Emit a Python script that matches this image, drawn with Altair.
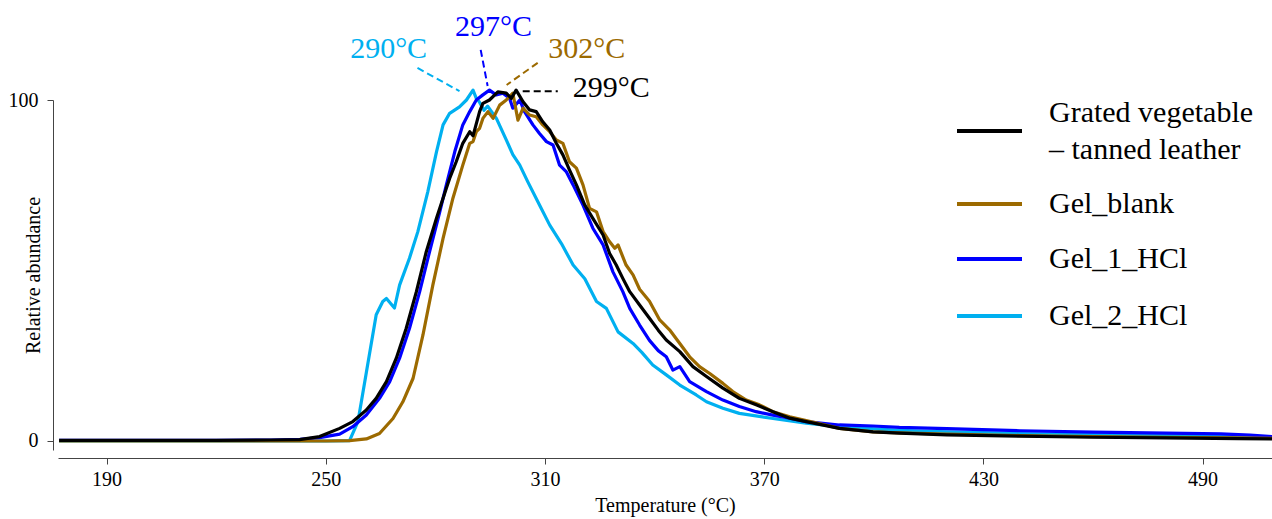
import altair as alt
import pandas as pd

# ---------------- data ----------------
series_names = ["Grated vegetable – tanned leather", "Gel_blank", "Gel_1_HCl", "Gel_2_HCl"]
series_colors = ["#000000", "#9C6A00", "#0000FF", "#00B0F0"]

black_t = [177, 200, 220, 235, 242.8, 248.3, 253.8, 257.4, 261.1, 263.8, 266.6, 269.3, 272, 274.8,
           277.5, 280.3, 283, 283.9, 285.7, 287.5, 289.4, 290.3, 292.1, 293, 294.8, 297.1, 299.4,
           300.8, 302.1, 304, 305.8, 307.6, 309.4, 311.3, 313.1, 314.9, 316.7, 318.6, 320.9, 323.1,
           325.9, 327.7, 329.5, 331.3, 333.2, 335.9, 338.6, 341, 343.2, 346.9, 350.5, 354.2, 358.7,
           363.2, 367.8, 372.4, 377, 381.5, 390.6, 399.8, 407, 420, 440, 460, 480, 500, 509]
black_v = [0.2, 0.2, 0.2, 0.3, 0.4, 1.3, 3.7, 5.7, 9.1, 12.5, 17.4, 24.3, 33, 43.8,
           55.5, 65.3, 74.1, 77, 81.9, 87.3, 90.7, 89.5, 96.6, 99, 100, 102.4, 102,
           100.5, 102.9, 99.5, 97.1, 96.6, 93.6, 91.2, 87.3, 83.9, 79.5, 75.1, 69.2, 65.3,
           60.4, 55, 51.6, 47.7, 43.8, 39.9, 36, 32.5, 29.6, 26.2, 21.8, 18.9, 15.5,
           12.5, 10.6, 8.6, 6.7, 5.7, 3.7, 2.7, 2.3, 1.8, 1.4, 1.1, 0.9, 0.7, 0.6]

brown_t = [177, 200, 220, 240, 250, 256.5, 261.1, 264.7, 268.4, 271.1, 273.9, 276.6, 279.3, 282.1,
           284.8, 287.5, 289.4, 290.3, 291.2, 292.1, 293, 294.4, 295.8, 297.6, 299.4, 301.2, 302.6,
           304, 305.8, 307.6, 309.4, 311.3, 313.1, 314.9, 316.7, 318.6, 320.4, 322.2, 324.1, 325.9,
           327.7, 329.1, 330, 332.2, 334.1, 335.9, 338.6, 341.4, 344.1, 346.9, 349.6, 352.3, 355.1,
           358.7, 361.4, 365.1, 368.7, 372.4, 377, 381.5, 390.6, 399.8, 407, 420, 440, 460, 480,
           500, 509]
brown_v = [0, 0, 0, 0, 0, 0.1, 0.6, 2.2, 6.6, 11.5, 18.4, 31.1, 45.7, 59.4,
           71.2, 80.9, 87.3, 87.8, 90.7, 91.7, 94.6, 96.6, 94.6, 98.5, 100, 102, 94.1,
           97.6, 95.6, 95.1, 92.7, 90.7, 88.3, 87.3, 81.9, 80, 75.1, 68.2, 67.2, 61.4,
           58.4, 56.5, 57.5, 51.6, 48.7, 44.5, 41, 35.5, 32.6, 28.6, 24.7, 21.8, 19.8,
           16.9, 14.5, 12, 10.6, 8.6, 7.1, 6.0, 3.7, 2.7, 2.4, 2.0, 1.6, 1.3, 1.1,
           0.9, 0.8]

blue_t = [177, 200, 220, 235, 243, 248.3, 253.8, 257.4, 261.1, 264.7, 267.5, 270.2, 272.9, 275.7,
          278.4, 281.2, 283, 285.3, 287.5, 289.4, 291.2, 293, 294.8, 296.6, 298.5, 300.3, 301.2,
          303.1, 304.4, 306.7, 308.5, 310.4, 312.2, 314, 315.8, 317.7, 320.4, 323.1, 325.9, 328.6,
          331.3, 333.2, 335.9, 338.6, 341, 343.2, 345, 346.9, 349.6, 354.2, 358.7, 363.2, 367.8,
          372.4, 377, 381.5, 390.6, 399.8, 407, 420, 440, 460, 480, 495, 503, 509]
blue_v = [0.2, 0.2, 0.2, 0.3, 0.5, 1.0, 2.0, 4.2, 7.6, 12.5, 17.4, 24.3, 33, 43.8,
          55.5, 67.2, 75.1, 84.8, 92.7, 96.6, 100, 101.5, 102.9, 101.5, 102, 100.5, 97.6,
          100, 96.6, 92.7, 90.2, 87.8, 86.8, 80.9, 79, 75.1, 69.2, 62.4, 57.5, 49.6,
          43.8, 38.9, 34, 29.5, 26.5, 24.7, 20.8, 21.8, 17.4, 14.5, 12, 10.1, 8.6,
          7.6, 6.7, 5.7, 4.7, 4.4, 4.0, 3.6, 3.0, 2.6, 2.3, 2.1, 1.7, 1.3]

cyan_t = [177, 200, 220, 240, 250, 256.5, 258.8, 259.7, 261.1, 262.5, 263.8, 265.6, 266.6, 268.8,
          270.2, 272.9, 275.2, 277.9, 280.3, 282.1, 283.9, 286.6, 288.5, 290.3, 291.2, 292, 293.3,
          294.3, 296.7, 299.4, 301.2, 303.1, 305.3, 308.5, 311.3, 314.5, 317.7, 320.9, 324.1, 326.8,
          330, 334.1, 336.5, 339.5, 343.2, 346.9, 351.4, 354.2, 358.7, 363.2, 372.4, 381.5, 390.6,
          407, 420, 440, 460, 480, 500, 509]
cyan_v = [0, 0, 0, 0, 0, 0.1, 5.7, 11.3, 20.1, 28.9, 37, 40.9, 41.8, 39,
          45.7, 53.6, 61.4, 73, 84.8, 92.7, 96.1, 98, 100, 102.9, 100.5, 99.5, 97,
          98.2, 94.6, 88.3, 84, 80.9, 76, 69.2, 63.3, 57.9, 51.6, 47.6, 40.9, 38.9,
          32, 28.6, 26, 22.3, 19.4, 16.4, 13.5, 11.5, 9.6, 8.1, 6.6, 5.2, 4.2,
          3.1, 2.7, 2.2, 1.9, 1.6, 1.4, 1.2]

# peak annotations
ann_labels = ["290°C", "297°C", "302°C", "299°C"]
ann_colors = ["#00B0F0", "#0000FF", "#9C6A00", "#000000"]
ann_text_x = [267.2, 295.9, 321.4, 317.6]
ann_text_y = [115.0, 121.4, 115.0, 103.5]
ann_align = ["center", "center", "center", "left"]
lead_x1 = [275.1, 292.4, 308.0, 303.9]
lead_y1 = [109.4, 114.7, 110.9, 102.6]
lead_x2 = [286.6, 294.3, 299.5, 313.5]
lead_y2 = [102.6, 104.1, 104.4, 102.6]

x_ticks = [190, 250, 310, 370, 430, 490]
y_ticks = [0, 100]

FONT = "Times New Roman, Liberation Serif, serif"
W, H = 1214, 350
xs = alt.Scale(domain=[176.7, 509], nice=False, zero=False)
ys = alt.Scale(domain=[-2.64, 100], nice=False, zero=False)
xaxis = alt.Axis(values=x_ticks, title="Temperature (°C)", grid=False, offset=8,
                 labelPadding=5, titlePadding=6, format="d",
                 labelFont=FONT, titleFont=FONT, labelFontSize=20, titleFontSize=20,
                 labelColor="#000000", titleColor="#000000", titleFontWeight="normal",
                 domainColor="#444444", tickColor="#444444", tickSize=6)
yaxis = alt.Axis(values=y_ticks, title="Relative abundance", grid=False, offset=5,
                 labelPadding=9, titleX=-20, titleY=175, titleAngle=270,
                 titleAlign="center", titleBaseline="middle",
                 labelFont=FONT, titleFont=FONT, labelFontSize=20, titleFontSize=20,
                 labelColor="#000000", titleColor="#000000", titleFontWeight="normal",
                 domainColor="#444444", tickColor="#444444", tickSize=6)

series = [
    (series_names[3], cyan_t, cyan_v, series_colors[3]),
    (series_names[2], blue_t, blue_v, series_colors[2]),
    (series_names[1], brown_t, brown_v, series_colors[1]),
    (series_names[0], black_t, black_v, series_colors[0]),
]

layers = []
for name, t, v, col in series:
    df = pd.DataFrame({"T": t, "v": v, "s": name})
    layers.append(
        alt.Chart(df).mark_line(color=col, strokeWidth=3.2, strokeJoin="round", clip=False)
        .encode(x=alt.X("T:Q", scale=xs, axis=xaxis, title="Temperature (°C)"),
                y=alt.Y("v:Q", scale=ys, axis=yaxis, title="Relative abundance"),
                order="T:Q")
    )

ann_df = pd.DataFrame({
    "label": ann_labels, "color": ann_colors, "tx": ann_text_x, "ty": ann_text_y,
    "x1": lead_x1, "y1": lead_y1, "x2": lead_x2, "y2": lead_y2, "align": ann_align,
})
for i in range(len(ann_labels)):
    row = ann_df.iloc[[i]]
    layers.append(
        alt.Chart(row).mark_rule(color=ann_colors[i], strokeWidth=2, strokeDash=[7, 4])
        .encode(x=alt.X("x1:Q", scale=xs, axis=xaxis, title="Temperature (°C)"),
                y=alt.Y("y1:Q", scale=ys, axis=yaxis, title="Relative abundance"),
                x2="x2:Q", y2="y2:Q")
    )
    layers.append(
        alt.Chart(row).mark_text(color=ann_colors[i], font=FONT, fontSize=30,
                                 align=ann_align[i], baseline="middle")
        .encode(x=alt.X("tx:Q", scale=xs, axis=xaxis, title="Temperature (°C)"),
                y=alt.Y("ty:Q", scale=ys, axis=yaxis, title="Relative abundance"),
                text="label:N")
    )

# manual legend (pixel layout relative to plot origin)
leg_sym_x1, leg_sym_x2, leg_text_x = 899, 964, 991
leg_rows_y = [31, 104, 159, 216]
leg_lines = [["Grated vegetable", "– tanned leather"], ["Gel_blank"], ["Gel_1_HCl"], ["Gel_2_HCl"]]
leg_line_gap = 37
for i in range(4):
    dummy = pd.DataFrame({"k": [0]})
    layers.append(
        alt.Chart(dummy).mark_rule(color=series_colors[i], strokeWidth=4)
        .encode(x=alt.value(leg_sym_x1), x2=alt.value(leg_sym_x2), y=alt.value(leg_rows_y[i]))
    )
    lines = leg_lines[i]
    n = len(lines)
    for j, txt in enumerate(lines):
        yy = leg_rows_y[i] + (j - (n - 1) / 2) * leg_line_gap
        layers.append(
            alt.Chart(pd.DataFrame({"t": [txt]})).mark_text(
                font=FONT, fontSize=30, color="#000000", align="left", baseline="middle")
            .encode(x=alt.value(leg_text_x), y=alt.value(yy), text="t:N")
        )

chart = alt.layer(*layers).properties(
    width=W, height=H, autosize=alt.AutoSizeParams(type="none"),
    padding={"left": 58, "top": 100, "right": 0, "bottom": 69},
    background="white",
).configure_view(stroke="transparent", strokeWidth=0)

chart.save("out.html", embed_options={"renderer": "svg", "actions": False})
